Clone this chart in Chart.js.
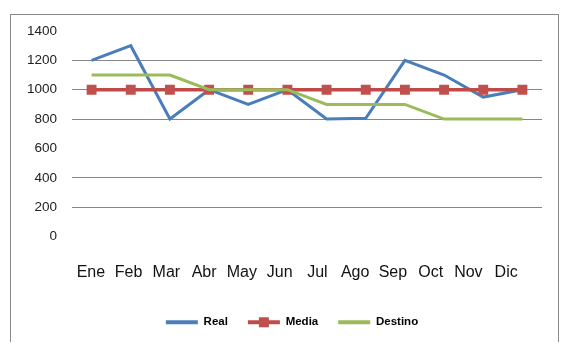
<!DOCTYPE html>
<html>
<head>
<meta charset="utf-8">
<script src="https://cdn.jsdelivr.net/npm/chart.js@4"></script>
<style>
  body { margin: 0; background: #fff; }
  #wrap { position: relative; width: 584px; height: 364px; }
  #frame {
    position: absolute; left: 10px; top: 14px; width: 547px; height: 327px;
    border: 1px solid #8a8a8a; border-bottom: none;
  }
  #chart { position: absolute; left: 0; top: 0; }
</style>
</head>
<body>
<div id="wrap">
  <div id="frame"></div>
  <canvas id="chart" width="584" height="364"></canvas>
</div>
<script>
const months = ['Ene', 'Feb', 'Mar', 'Abr', 'May', 'Jun', 'Jul', 'Ago', 'Sep', 'Oct', 'Nov', 'Dic'];
const realValues = [1200, 1300, 800, 1000, 900, 1000, 800, 805, 1200, 1100, 950, 1000];
const mediaValues = [1000, 1000, 1000, 1000, 1000, 1000, 1000, 1000, 1000, 1000, 1000, 1000];
const destinoValues = [1100, 1100, 1100, 1000, 1000, 1000, 900, 900, 900, 800, 800, 800];
const yTicks = [0, 200, 400, 600, 800, 1000, 1200, 1400];
const hiddenGrid = [0, 600, 1400];

// legend centred on the whole canvas, plus the square marker on the Media legend line
const legendTweaks = {
  id: 'legendTweaks',
  afterLayout(chart) {
    const lg = chart.legend;
    lg.left = 0;
    lg.right = chart.width;
    lg.width = chart.width;
  },
  afterDraw(chart) {
    const lg = chart.legend;
    const box = lg.legendHitBoxes[1];
    if (!box) return;
    const bw = lg.options.labels.boxWidth;
    const ctx = chart.ctx;
    ctx.save();
    ctx.fillStyle = '#C0504D';
    ctx.fillRect(box.left + bw / 2 - 5, box.top + box.height / 2 - 5, 10, 10);
    ctx.restore();
  }
};

const ctx = document.getElementById('chart').getContext('2d');
new Chart(ctx, {
  type: 'line',
  data: {
    labels: months,
    datasets: [
      {
        label: 'Real',
        data: realValues,
        borderColor: '#4A7EBB',
        backgroundColor: '#4A7EBB',
        borderWidth: 3,
        pointRadius: 0,
        tension: 0,
        order: 3
      },
      {
        label: 'Media',
        data: mediaValues,
        borderColor: '#BE4B48',
        backgroundColor: '#BE4B48',
        borderWidth: 3.5,
        pointStyle: 'rect',
        pointRadius: 7,
        pointBorderWidth: 0,
        pointBackgroundColor: '#C0504D',
        tension: 0,
        order: 2
      },
      {
        label: 'Destino',
        data: destinoValues,
        borderColor: '#9BBB59',
        backgroundColor: '#9BBB59',
        borderWidth: 3,
        pointRadius: 0,
        tension: 0,
        order: 1
      }
    ]
  },
  options: {
    responsive: false,
    animation: false,
    layout: { padding: { left: 0, right: 42, top: 31, bottom: 26 } },
    plugins: {
      title: { display: false },
      tooltip: { enabled: false },
      legend: {
        position: 'bottom',
        labels: {
          boxWidth: 32,
          boxHeight: 4,
          padding: 20,
          color: '#000',
          font: { family: 'Liberation Sans, Arial, sans-serif', size: 11.5, weight: 'bold' },
          sort: (a, b) => a.datasetIndex - b.datasetIndex,
          generateLabels: (chart) =>
            Chart.defaults.plugins.legend.labels.generateLabels(chart).map(item => {
              item.lineWidth = 0;
              item.fillStyle = item.strokeStyle;
              return item;
            })
        }
      }
    },
    scales: {
      x: {
        type: 'category',
        display: false,
        offset: true
      },
      x2: {
        type: 'linear',
        position: 'bottom',
        min: -0.5,
        max: 11.95,
        grid: { display: false, drawTicks: false },
        border: { display: false },
        afterBuildTicks: (scale) => {
          scale.ticks = months.map((m, i) => ({ value: i }));
        },
        afterFit: (scale) => { scale.height = 60; },
        ticks: {
          autoSkip: false,
          maxRotation: 0,
          padding: 26,
          color: '#111',
          font: { family: 'Liberation Sans, Arial, sans-serif', size: 16 },
          callback: (v) => months[v]
        }
      },
      y: {
        min: 0,
        max: 1400,
        afterBuildTicks: (scale) => {
          scale.ticks = yTicks.map(v => ({ value: v }));
        },
        afterFit: (scale) => { scale.width = 72; },
        grid: {
          drawTicks: false,
          lineWidth: 1,
          color: (c) => hiddenGrid.includes(c.tick && c.tick.value) ? 'rgba(0,0,0,0)' : '#868686'
        },
        border: { display: false },
        ticks: {
          padding: 15,
          color: '#222',
          font: { family: 'Liberation Sans, Arial, sans-serif', size: 13.5 },
          callback: (v) => String(v)
        }
      }
    }
  },
  plugins: [legendTweaks]
});
</script>
</body>
</html>
